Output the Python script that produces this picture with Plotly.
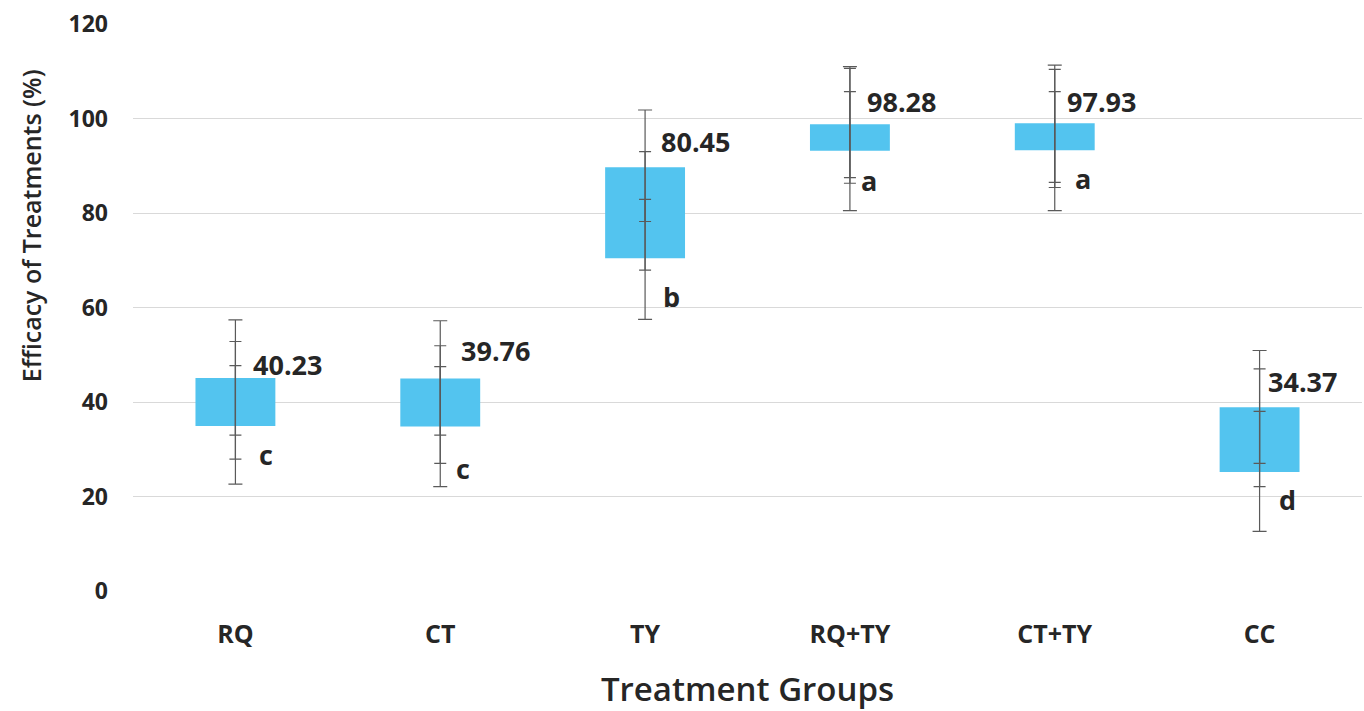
import plotly.graph_objects as go

# Treatment groups and measured efficacy (%)
groups = ["RQ", "CT", "TY", "RQ+TY", "CT+TY", "CC"]
mean_labels = ["40.23", "39.76", "80.45", "98.28", "97.93", "34.37"]
letters = ["c", "c", "b", "a", "a", "d"]

# Floating box (lower / upper bound)
box_low = [34.9, 34.8, 70.4, 93.2, 93.3, 25.2]
box_high = [45.1, 45.0, 89.7, 98.8, 99.0, 38.9]

# Three nested whisker ranges per group
outer_low = [22.6, 22.1, 57.5, 80.5, 80.5, 12.6]
outer_high = [57.4, 57.2, 101.8, 111.0, 111.3, 50.9]
mid_low = [27.9, 27.0, 67.9, 86.3, 85.4, 22.1]
mid_high = [52.8, 51.9, 93.0, 110.6, 110.4, 47.0]
inner_low = [33.0, 33.0, 78.2, 87.5, 86.5, 27.0]
inner_high = [47.7, 47.5, 82.9, 105.7, 105.7, 38.0]

# Annotation placement (y in data units, x offset in px from the whisker)
value_label_y = [48.0, 51.0, 95.2, 103.7, 103.7, 44.4]
value_label_dx = [16, 19, 14, 15, 10, 6]
letter_label_y = [28.8, 26.0, 62.4, 86.8, 87.4, 19.3]
letter_label_dx = [22, 14, 16, 9, 18, 17]

FONT = "Open Sans"
TEXT_COLOR = "#262626"
BOX_COLOR = "#53C4EF"
WHISKER_COLOR = "#5a5a5a"

fig = go.Figure()

fig.add_trace(go.Bar(
    x=groups,
    y=[h - l for l, h in zip(box_low, box_high)],
    base=box_low,
    width=0.39,
    marker=dict(color=BOX_COLOR, line=dict(width=0)),
    showlegend=False,
    hoverinfo="skip",
))

for lows, highs, cap in [(outer_low, outer_high, 7),
                         (mid_low, mid_high, 6),
                         (inner_low, inner_high, 6)]:
    fig.add_trace(go.Scatter(
        x=groups,
        y=lows,
        mode="markers",
        marker=dict(size=1, color="rgba(0,0,0,0)"),
        error_y=dict(
            type="data",
            symmetric=False,
            array=[h - l for l, h in zip(lows, highs)],
            arrayminus=[0] * len(lows),
            color=WHISKER_COLOR,
            thickness=1.2,
            width=cap,
        ),
        showlegend=False,
        hoverinfo="skip",
    ))

for g, txt, y, dx in zip(groups, mean_labels, value_label_y, value_label_dx):
    fig.add_annotation(x=g, y=y, text=f"<b>{txt}</b>", showarrow=False,
                       xanchor="left", yanchor="middle", xshift=dx,
                       font=dict(family=FONT, size=27, color=TEXT_COLOR))

for g, txt, y, dx in zip(groups, letters, letter_label_y, letter_label_dx):
    fig.add_annotation(x=g, y=y, text=f"<b>{txt}</b>", showarrow=False,
                       xanchor="left", yanchor="middle", xshift=dx,
                       font=dict(family=FONT, size=27, color=TEXT_COLOR))

# Y-axis title, placed as a rotated annotation
fig.add_annotation(
    xref="paper", yref="paper", x=-0.083, y=0.645,
    text="Efficacy of Treatments (%)", textangle=-90, showarrow=False,
    xanchor="center", yanchor="middle",
    font=dict(family=FONT, size=25, color=TEXT_COLOR, weight=600),
)

fig.update_layout(
    width=1364,
    height=711,
    margin=dict(l=133, r=2, t=24, b=120),
    paper_bgcolor="white",
    plot_bgcolor="white",
    font=dict(family=FONT, color=TEXT_COLOR),
)

fig.update_xaxes(
    showgrid=False,
    showline=False,
    zeroline=False,
    ticks="",
    tickfont=dict(family=FONT, size=25, color=TEXT_COLOR, weight="bold"),
    ticklabelstandoff=26,
    title=dict(text="Treatment Groups", standoff=28,
               font=dict(family=FONT, size=33, color=TEXT_COLOR, weight=600)),
)

fig.update_yaxes(
    range=[0, 120],
    dtick=20,
    showgrid=True,
    gridcolor="#d9d9d9",
    gridwidth=1,
    zeroline=False,
    showline=False,
    ticks="",
    tickfont=dict(family=FONT, size=23, color=TEXT_COLOR, weight="bold"),
    ticklabelstandoff=24,
)

fig.write_html("out.html")
